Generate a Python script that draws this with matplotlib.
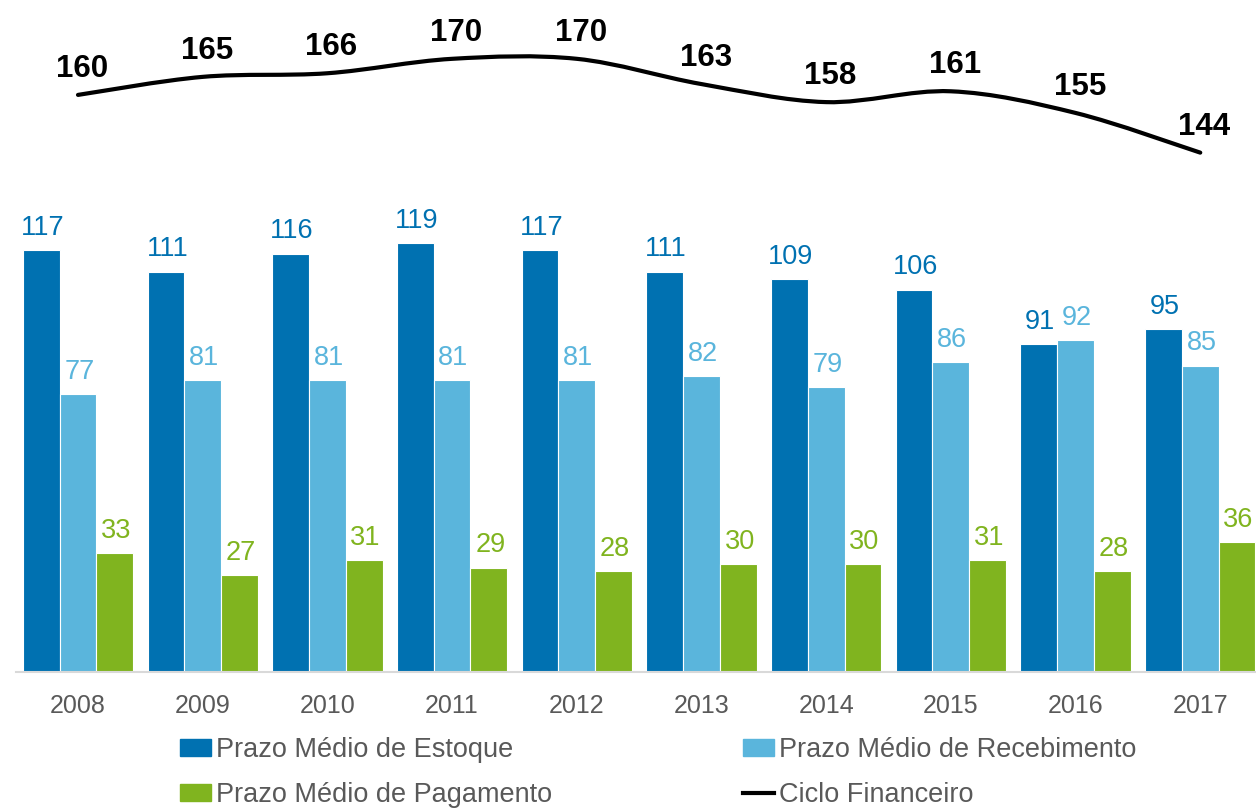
import matplotlib
matplotlib.use("Agg")
import matplotlib.pyplot as plt
from matplotlib import font_manager
from matplotlib.path import Path
from matplotlib.patches import PathPatch
from matplotlib.lines import Line2D
from matplotlib.patches import Patch
import numpy as np

# data
anos = ['2008', '2009', '2010', '2011', '2012', '2013', '2014', '2015', '2016', '2017']
estoque = [117, 111, 116, 119, 117, 111, 109, 106, 91, 95]
recebimento = [77, 81, 81, 81, 81, 82, 79, 86, 92, 85]
pagamento = [33, 27, 31, 29, 28, 30, 30, 31, 28, 36]
ciclo = [160, 165, 166, 170, 170, 163, 158, 161, 155, 144]

c_est = '#0071B1'
c_rec = '#5AB5DC'
c_pag = '#80B41F'
c_txt = '#595959'

installed = {f.name for f in font_manager.fontManager.ttflist}
narrow = 'Liberation Sans Narrow' if 'Liberation Sans Narrow' in installed else 'Liberation Sans'
plt.rcParams['font.family'] = ['Liberation Sans', 'DejaVu Sans']

fig = plt.figure(figsize=(12.56, 8.08), dpi=100)
ax = fig.add_axes([0, 0.168, 1, 0.832])

x = np.arange(len(anos))
w = 0.295
for vals, off, col in [(estoque, -w, c_est), (recebimento, 0, c_rec), (pagamento, w, c_pag)]:
    bars = ax.bar(x + off, vals, w, color=col, edgecolor='white', linewidth=0.8)
    for b, v in zip(bars, vals):
        ax.annotate(str(v), (b.get_x() + b.get_width() / 2, v), xytext=(1, 11),
                    textcoords='offset points', ha='center', va='baseline',
                    fontsize=19.5, color=col, family=narrow)

# linha suavizada (bezier pelos pontos, como no Excel)
pts = np.column_stack([x, ciclo]).astype(float)
verts = [tuple(pts[0])]
codes = [Path.MOVETO]
n = len(pts)
for i in range(n - 1):
    p0 = pts[max(i - 1, 0)]
    p1 = pts[i]
    p2 = pts[i + 1]
    p3 = pts[min(i + 2, n - 1)]
    c1 = p1 + (p2 - p0) / 6
    c2 = p2 - (p3 - p1) / 6
    verts += [tuple(c1), tuple(c2), tuple(p2)]
    codes += [Path.CURVE4] * 3
ax.add_patch(PathPatch(Path(verts, codes), facecolor='none', edgecolor='black',
                       lw=3, capstyle='round'))
for xi, v in zip(x, ciclo):
    ax.annotate(str(v), (xi, v), xytext=(3, 13), textcoords='offset points',
                ha='center', va='baseline', fontsize=22.5, fontweight='bold',
                color='black', family=narrow)

ax.set_xlim(-0.6255, 9.447)
ax.set_ylim(0, 186.3)
ax.set_xticks(x)
ax.set_xticklabels(anos, fontsize=18, color=c_txt)
ax.tick_params(axis='x', length=0, pad=15.5)
ax.set_yticks([])
for s in ['top', 'left', 'right']:
    ax.spines[s].set_visible(False)
ax.spines['bottom'].set_color('#D9D9D9')
ax.spines['bottom'].set_linewidth(1.5)
ax.spines['bottom'].set_bounds(-0.5, 9.447)

handles = [Patch(color=c_est), Patch(color=c_pag), Patch(color=c_rec),
           Line2D([], [], color='black', lw=3)]
labels = ['Prazo Médio de Estoque', 'Prazo Médio de Pagamento',
          'Prazo Médio de Recebimento', 'Ciclo Financeiro']
fig.legend(handles, labels, ncol=2, loc='upper left', bbox_to_anchor=(0.1433, 0.0879),
           frameon=False, fontsize=19.5, labelcolor=c_txt, handlelength=1.15,
           handleheight=0.55, handletextpad=0.18, columnspacing=7.06,
           labelspacing=0.7, borderpad=0, borderaxespad=0)

fig.savefig('out.png', dpi=100)
